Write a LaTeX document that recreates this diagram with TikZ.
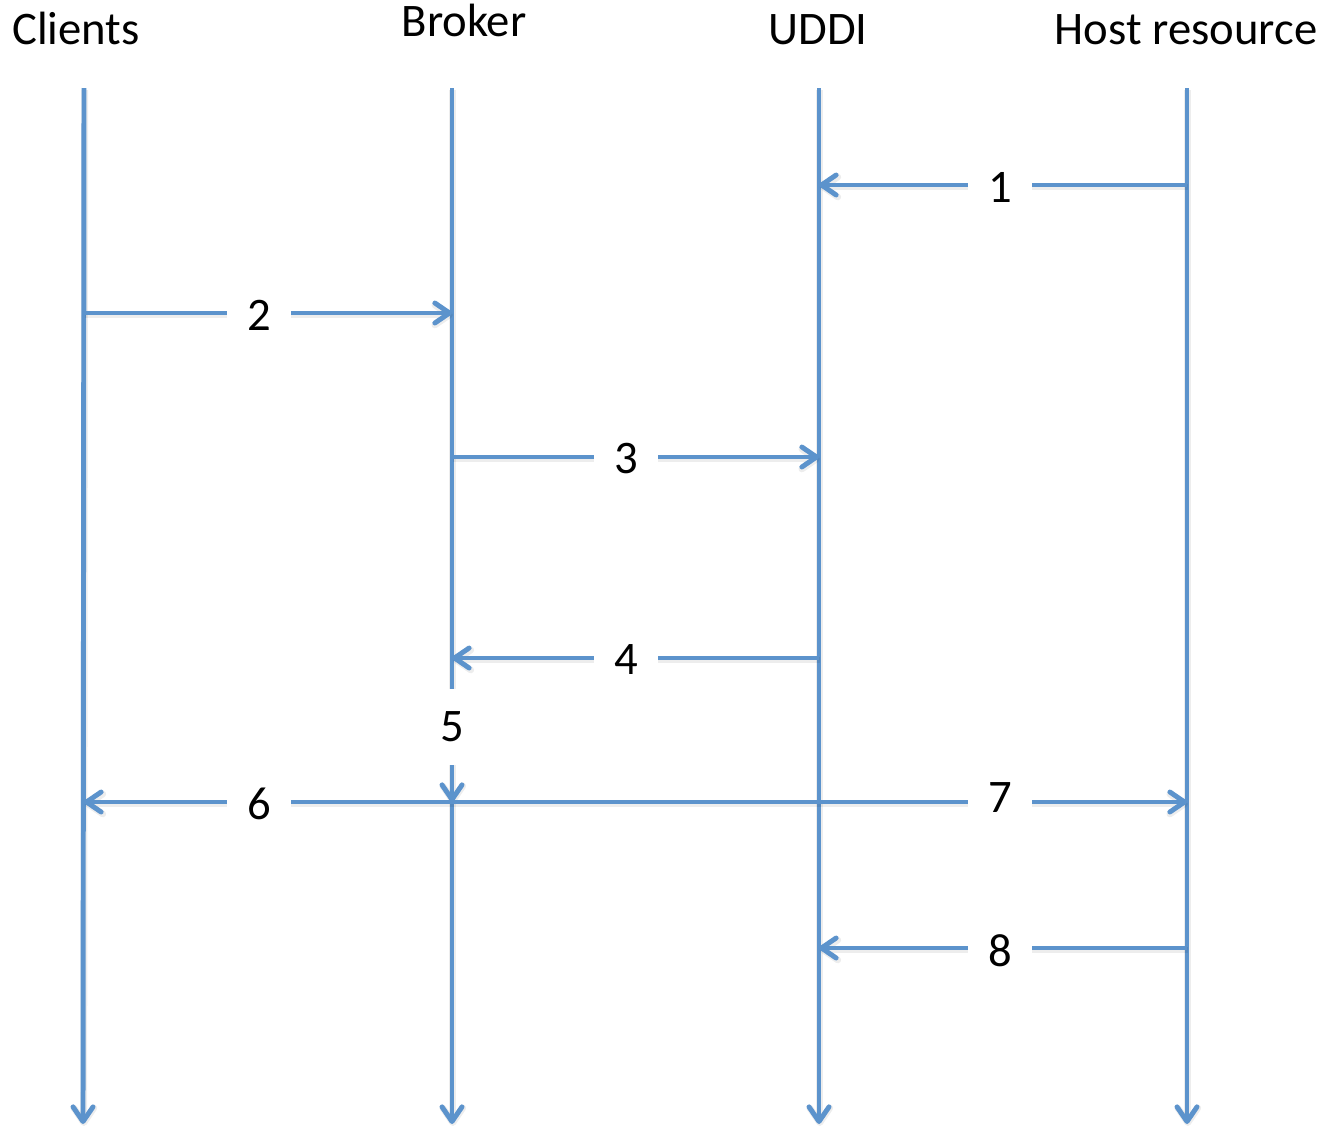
\documentclass[tikz,border=0pt]{standalone}
\usepackage{fontspec}
\setmainfont{Carlito}
\usetikzlibrary{arrows.meta}
\definecolor{lifeblue}{RGB}{92,147,204}
\begin{document}
\begin{tikzpicture}[x=0.75pt,y=-0.75pt,
  bigtext/.style={font=\fontsize{35}{42}\selectfont, text=black},
  header/.style={bigtext, anchor=base, inner sep=0pt},
  flow/.style={draw=lifeblue, line width=3.7pt,
    preaction={draw=black, draw opacity=0.07, line width=5pt,
      transform canvas={shift={(0.8,2)}}},
    -{Straight Barb[length=11pt,width=15pt,line cap=round,line join=round]}},
  msglabel/.style={bigtext, fill=white, inner xsep=15pt, inner ysep=17pt}]
  \useasboundingbox (0,0) rectangle (1325,1128);

  % participant headers
  \node[header] (hClients) at (76,44) {Clients};
  \node[header] (hBroker)  at (464,36) {Broker};
  \node[header] (hUDDI)    at (818,44) {UDDI};
  \node[header] (hHost)    at (1186,44) {Host resource};

  % lifeline ends
  \coordinate (cT) at (84,88);   \coordinate (cB) at (83,1124);
  \coordinate (bT) at (452,88);  \coordinate (bB) at (452,1124);
  \coordinate (uT) at (819,88);  \coordinate (uB) at (819,1124);
  \coordinate (hT) at (1187,88); \coordinate (hB) at (1187,1124);

  % message anchor points on the lifelines
  \coordinate (h1) at (1187,185); \coordinate (u1) at (819,185);
  \coordinate (c2) at (84,313);   \coordinate (b2) at (452,313);
  \coordinate (b3) at (452,457);  \coordinate (u3) at (819,457);
  \coordinate (u4) at (819,658);  \coordinate (b4) at (452,658);
  \coordinate (b5) at (452,802);
  \coordinate (c6) at (84,802);   \coordinate (h7) at (1187,802);
  \coordinate (h8) at (1187,948); \coordinate (u8) at (819,948);

  % lifelines
  \draw[flow] (cT) -- (cB);
  \draw[flow] (uT) -- (uB);
  \draw[flow] (hT) -- (hB);
  \draw[flow] (bT) -- (b5);
  \draw[flow] (b5) -- (bB);

  % messages
  \draw[flow] (h1) -- (u1);
  \draw[flow] (c2) -- (b2);
  \draw[flow] (b3) -- (u3);
  \draw[flow] (u4) -- (b4);
  \draw[flow] (b5) -- (c6);
  \draw[flow] (b5) -- (h7);
  \draw[flow] (h8) -- (u8);

  % message numbers
  \node[msglabel] (m1) at (1000,187) {1};
  \node[msglabel] (m2) at (259,315) {2};
  \node[msglabel] (m3) at (626,459) {3};
  \node[msglabel] (m4) at (626,660) {4};
  \node[msglabel] (m5) at (452,727) {5};
  \node[msglabel] (m6) at (259,804) {6};
  \node[msglabel] (m7) at (1000,798) {7};
  \node[msglabel] (m8) at (1000,951) {8};
\end{tikzpicture}
\end{document}
